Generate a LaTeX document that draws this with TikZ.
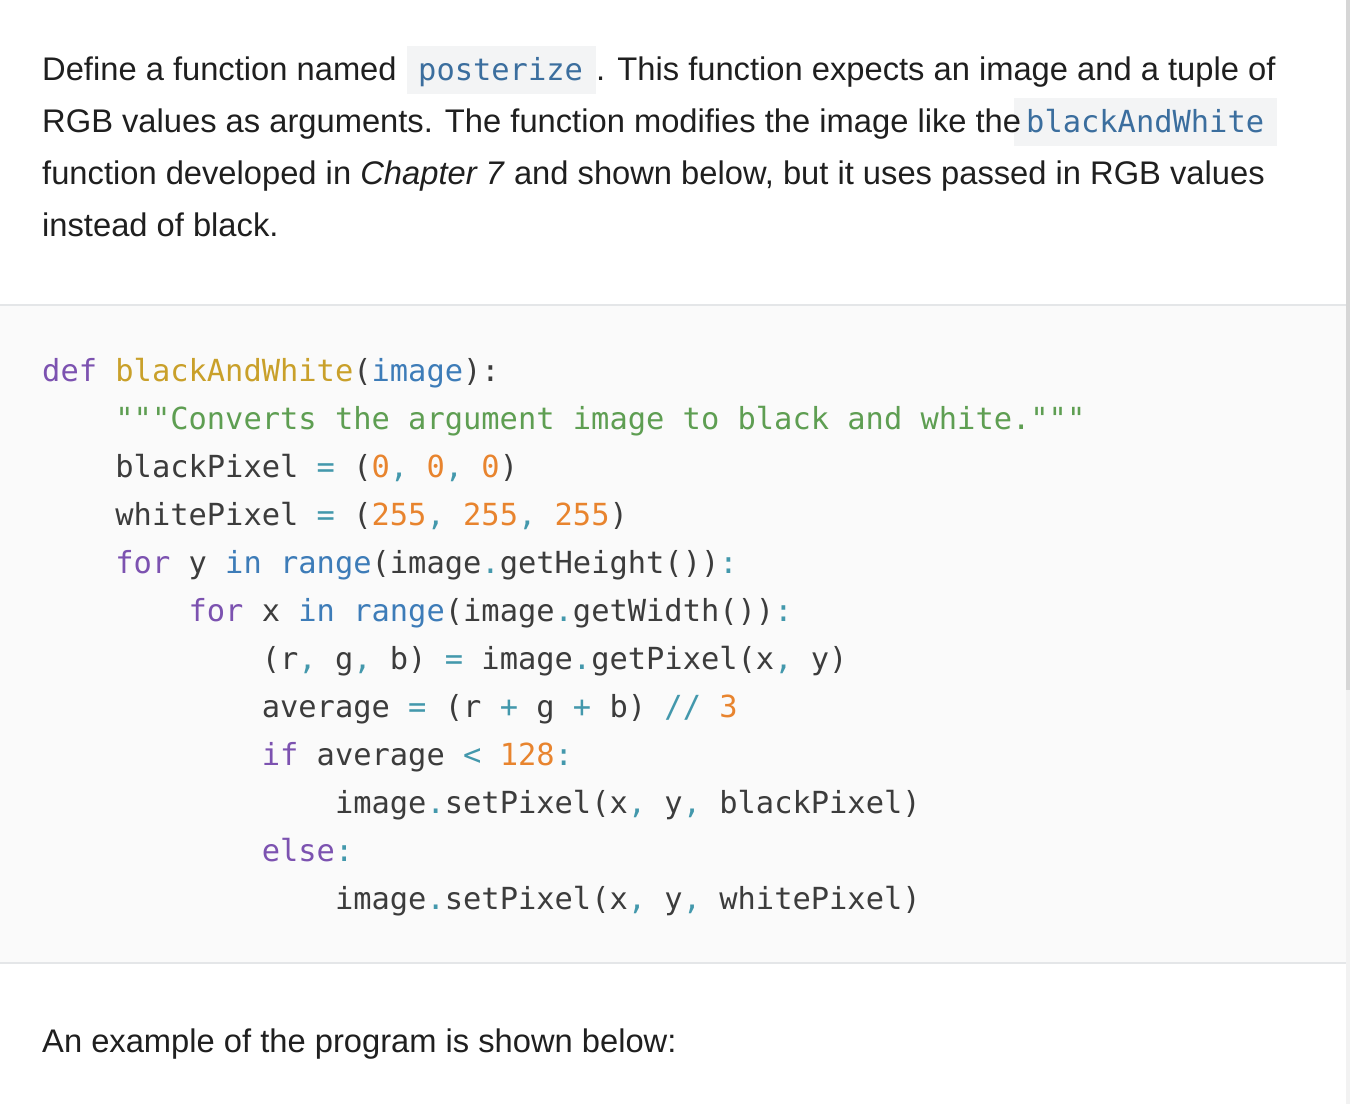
\documentclass[tikz,border=0pt]{standalone}
\usepackage{fontspec}
\setmainfont{Liberation Sans}
\setmonofont{DejaVu Sans Mono}
\definecolor{txt}{HTML}{1F1F1F}
\definecolor{ctxt}{HTML}{3C3C3C}
\definecolor{kw}{HTML}{7C52B0}
\definecolor{fn}{HTML}{C9A02A}
\definecolor{bl}{HTML}{3D7CB8}
\definecolor{st}{HTML}{5E9E52}
\definecolor{nu}{HTML}{E8842E}
\definecolor{pu}{HTML}{4398AC}
\definecolor{icode}{HTML}{3B6E9E}
\definecolor{ibg}{HTML}{F3F4F5}
\definecolor{cbg}{HTML}{FAFAFA}
\definecolor{rule}{HTML}{E4E6E8}
\newcommand{\K}[1]{\textcolor{kw}{#1}}
\newcommand{\F}[1]{\textcolor{fn}{#1}}
\newcommand{\B}[1]{\textcolor{bl}{#1}}
\newcommand{\Ss}[1]{\textcolor{st}{#1}}
\newcommand{\N}[1]{\textcolor{nu}{#1}}
\newcommand{\Pp}[1]{\textcolor{pu}{#1}}
\begin{document}
\begin{tikzpicture}[x=1pt,y=-1pt,
  prose/.style={anchor=base west,inner sep=0pt,text=txt,font=\fontsize{32.7}{52}\selectfont},
  codeline/.style={anchor=base west,inner sep=0pt,text=ctxt,font=\ttfamily\fontsize{30.4}{48}\selectfont},
  ibox/.style={fill=ibg,draw=none}]
\useasboundingbox (0,0) rectangle (1350,1104);
\fill[white] (0,0) rectangle (1350,1104);
% code block
\fill[cbg] (0,305) rectangle (1346,963);
\draw[rule,line width=1.5pt] (0,305) -- (1346,305);
\draw[rule,line width=1.5pt] (0,963) -- (1346,963);
% scrollbar
\fill[black!16] (1346,0) rectangle (1350,690);
\fill[black!5] (1346,690) rectangle (1350,1104);
% inline code boxes
\fill[ibox] (407,46) rectangle (596,94);
\fill[ibox] (1014,98) rectangle (1277,146);
% prose
\node[prose] (p1a) at (42,80) {Define a function named};
\node[codeline,text=icode] (p1c) at (418,80) {posterize};
\node[prose] (p1b) at (596,80) {. This function expects an image and a tuple of};
\node[prose] (p2a) at (42,132) {RGB values as arguments. The function modifies the image like the};
\node[codeline,text=icode] (p2c) at (1026,132) {blackAndWhite};
\node[prose] (p3) at (42,184) {function developed in \textit{Chapter 7} and shown below, but it uses passed in RGB values};
\node[prose] (p4) at (42,236) {instead of black.};
\node[prose] (p5) at (42,1052) {An example of the program is shown below:};
% code
\node[codeline] (c1) at (42,381) {\K{def} \F{blackAndWhite}(\B{image}):};
\node[codeline] (c2) at (42,429) {\phantom{xxxx}\Ss{"""Converts the argument image to black and white."""}};
\node[codeline] (c3) at (42,477) {\phantom{xxxx}blackPixel \Pp{=} (\N{0}\Pp{,} \N{0}\Pp{,} \N{0})};
\node[codeline] (c4) at (42,525) {\phantom{xxxx}whitePixel \Pp{=} (\N{255}\Pp{,} \N{255}\Pp{,} \N{255})};
\node[codeline] (c5) at (42,573) {\phantom{xxxx}\K{for} y \B{in} \B{range}(image\Pp{.}getHeight())\Pp{:}};
\node[codeline] (c6) at (42,621) {\phantom{xxxxxxxx}\K{for} x \B{in} \B{range}(image\Pp{.}getWidth())\Pp{:}};
\node[codeline] (c7) at (42,669) {\phantom{xxxxxxxxxxxx}(r\Pp{,} g\Pp{,} b) \Pp{=} image\Pp{.}getPixel(x\Pp{,} y)};
\node[codeline] (c8) at (42,717) {\phantom{xxxxxxxxxxxx}average \Pp{=} (r \Pp{+} g \Pp{+} b) \Pp{//} \N{3}};
\node[codeline] (c9) at (42,765) {\phantom{xxxxxxxxxxxx}\K{if} average \Pp{<} \N{128}\Pp{:}};
\node[codeline] (c10) at (42,813) {\phantom{xxxxxxxxxxxxxxxx}image\Pp{.}setPixel(x\Pp{,} y\Pp{,} blackPixel)};
\node[codeline] (c11) at (42,861) {\phantom{xxxxxxxxxxxx}\K{else}\Pp{:}};
\node[codeline] (c12) at (42,909) {\phantom{xxxxxxxxxxxxxxxx}image\Pp{.}setPixel(x\Pp{,} y\Pp{,} whitePixel)};
\end{tikzpicture}
\end{document}
